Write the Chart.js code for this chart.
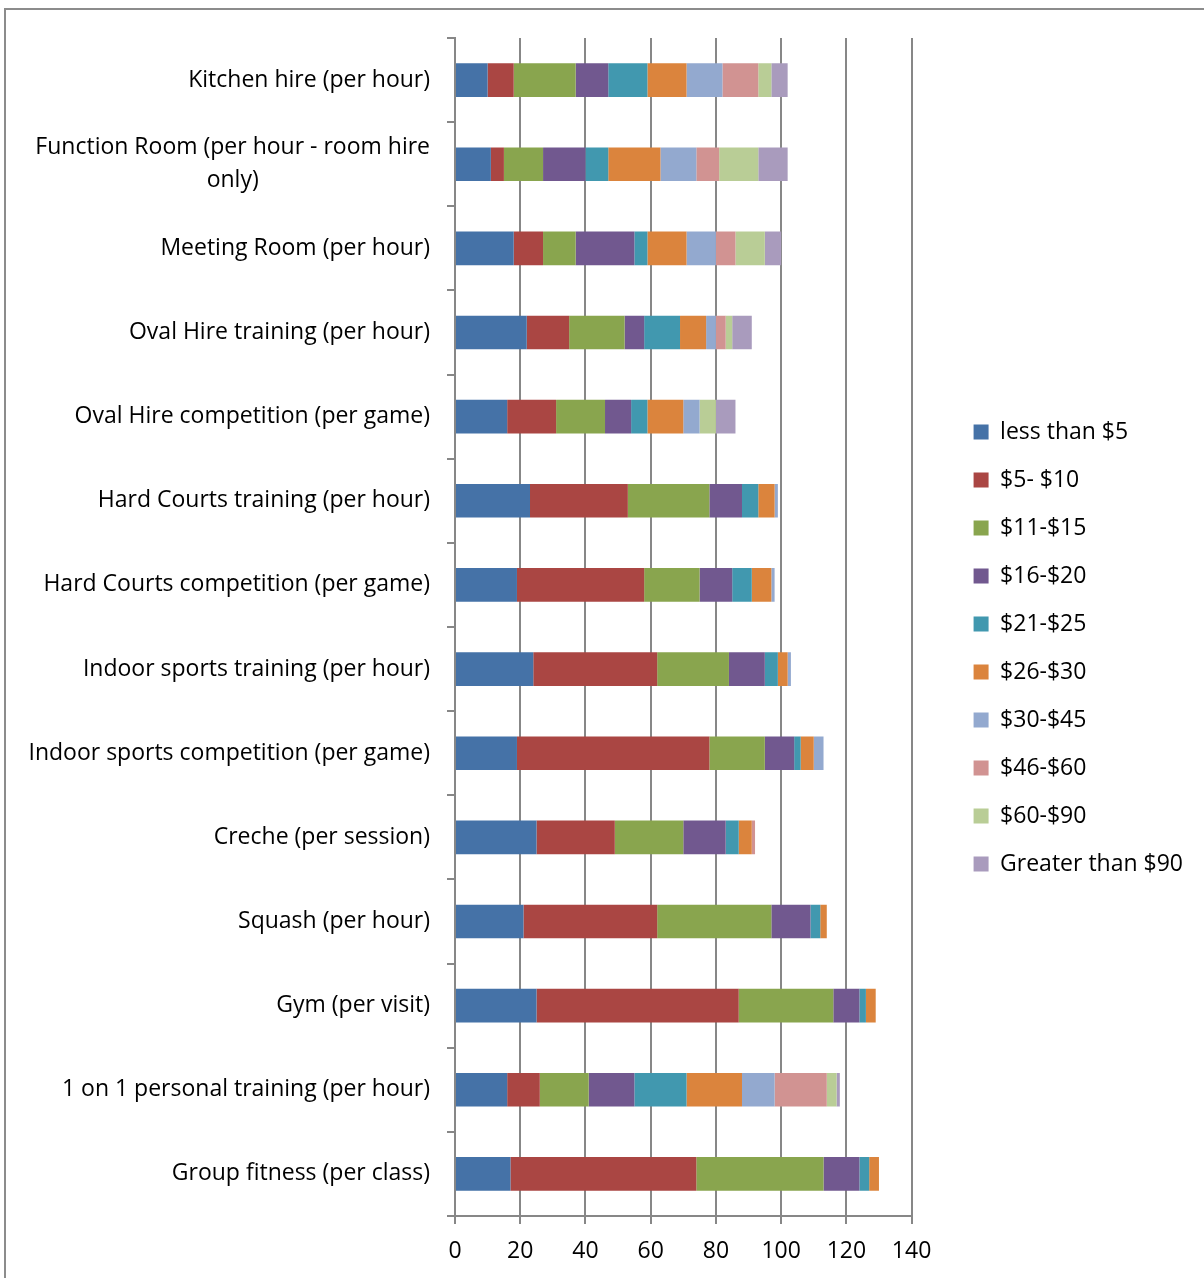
<!DOCTYPE html>
<html>
<head>
<meta charset="utf-8">
<script src="https://cdn.jsdelivr.net/npm/chart.js@4.4.0/dist/chart.umd.min.js"></script>
<style>
  html, body { margin: 0; padding: 0; background: #fff; }
  #wrap { width: 1204px; height: 1278px; position: relative; }
</style>
</head>
<body>
<div id="wrap"><canvas id="priceChart"></canvas></div>
<script>
// facilities, top to bottom
const facilities = [
  ["Kitchen hire (per hour)"],
  ["Function Room (per hour - room hire", "only)"],
  ["Meeting Room (per hour)"],
  ["Oval Hire training (per hour)"],
  ["Oval Hire competition (per game)"],
  ["Hard Courts training (per hour)"],
  ["Hard Courts competition (per game)"],
  ["Indoor sports training (per hour)"],
  ["Indoor sports competition (per game)"],
  ["Creche (per session)"],
  ["Squash (per hour)"],
  ["Gym (per visit)"],
  ["1 on 1 personal training (per hour)"],
  ["Group fitness (per class)"]
];

const priceBands = ["less than $5", "$5- $10", "$11-$15", "$16-$20", "$21-$25",
  "$26-$30", "$30-$45", "$46-$60", "$60-$90", "Greater than $90"];

// responses per price band, one value per facility
const lessThan5 = [10, 11, 18, 22, 16, 23, 19, 24, 19, 25, 21, 25, 16, 17];
const from5to10 = [8, 4, 9, 13, 15, 30, 39, 38, 59, 24, 41, 62, 10, 57];
const from11to15 = [19, 12, 10, 17, 15, 25, 17, 22, 17, 21, 35, 29, 15, 39];
const from16to20 = [10, 13, 18, 6, 8, 10, 10, 11, 9, 13, 12, 8, 14, 11];
const from21to25 = [12, 7, 4, 11, 5, 5, 6, 4, 2, 4, 3, 2, 16, 3];
const from26to30 = [12, 16, 12, 8, 11, 5, 6, 3, 4, 4, 2, 3, 17, 3];
const from30to45 = [11, 11, 9, 3, 5, 1, 1, 1, 3, 0, 0, 0, 10, 0];
const from46to60 = [11, 7, 6, 3, 0, 0, 0, 0, 0, 1, 0, 0, 16, 0];
const from60to90 = [4, 12, 9, 2, 5, 0, 0, 0, 0, 0, 0, 0, 3, 0];
const over90 = [5, 9, 5, 6, 6, 0, 0, 0, 0, 0, 0, 0, 1, 0];

const xTicks = [0, 20, 40, 60, 80, 100, 120, 140];

const seriesValues = [lessThan5, from5to10, from11to15, from16to20, from21to25,
  from26to30, from30to45, from46to60, from60to90, over90];
const colors = ["#4572A7", "#AA4643", "#89A54E", "#71588F", "#4198AF",
  "#DB843D", "#93A9CF", "#D19392", "#B9CD96", "#A99BBD"];

const FONT = "'Open Sans', 'Noto Sans', sans-serif";
const FONT_SIZE = 23;
const GRID = "#878787";

// white page with the grey frame
const framePlugin = {
  id: "frame",
  beforeDraw(chart) {
    const ctx = chart.ctx;
    ctx.save();
    ctx.fillStyle = "#fff";
    ctx.fillRect(0, 0, chart.width, chart.height);
    ctx.strokeStyle = "#8c8c8c";
    ctx.lineWidth = 2;
    ctx.strokeRect(5, 9, chart.width + 20, chart.height + 20);
    ctx.restore();
  }
};

// category labels: right aligned block, lines centred within the block
const yLabelPlugin = {
  id: "yLabels",
  afterDraw(chart) {
    const ctx = chart.ctx;
    const yScale = chart.scales.y;
    const right = yScale.right - 25;
    const lineH = 33;
    ctx.save();
    ctx.font = FONT_SIZE + "px " + FONT;
    ctx.fillStyle = "#000";
    ctx.textAlign = "center";
    ctx.textBaseline = "middle";
    facilities.forEach((lines, i) => {
      const y = yScale.getPixelForValue(i);
      const w = Math.max(...lines.map(l => ctx.measureText(l).width));
      const cx = right - w / 2;
      const y0 = y - (lines.length - 1) * lineH / 2;
      lines.forEach((l, k) => ctx.fillText(l, cx, y0 + k * lineH));
    });
    ctx.restore();
  }
};

const ctx = document.getElementById("priceChart").getContext("2d");
new Chart(ctx, {
  type: "bar",
  data: {
    labels: facilities.map(f => f.join(" ")),
    datasets: priceBands.map((band, i) => ({
      label: band,
      data: seriesValues[i],
      backgroundColor: colors[i],
      borderWidth: 0,
      categoryPercentage: 0.8,
      barPercentage: 0.5
    }))
  },
  options: {
    indexAxis: "y",
    responsive: true,
    maintainAspectRatio: false,
    animation: false,
    layout: { padding: { top: 38, right: 11, bottom: 20, left: 0 } },
    scales: {
      x: {
        stacked: true,
        min: 0,
        max: 140,
        afterBuildTicks: scale => { scale.ticks = xTicks.map(v => ({ value: v })); },
        afterFit: scale => { scale.height = 42; },
        grid: { color: GRID, lineWidth: 2, tickLength: 8 },
        border: { color: GRID, width: 2 },
        ticks: { font: { size: FONT_SIZE, family: FONT }, color: "#000", padding: 14 }
      },
      y: {
        stacked: true,
        afterFit: scale => { scale.width = 455; },
        grid: { drawOnChartArea: false, color: GRID, lineWidth: 2, tickLength: 8, offset: true },
        border: { color: GRID, width: 2 },
        ticks: { display: false }
      },
      // empty strip between the plot and the legend
      gap: {
        type: "linear",
        position: "right",
        display: false,
        afterFit: scale => { scale.width = 37; }
      }
    },
    plugins: {
      legend: {
        position: "right",
        labels: {
          boxWidth: 15,
          boxHeight: 15,
          padding: 25,
          color: "#000",
          font: { size: FONT_SIZE, family: FONT }
        }
      },
      tooltip: { enabled: false }
    }
  },
  plugins: [framePlugin, yLabelPlugin]
});
</script>
</body>
</html>
